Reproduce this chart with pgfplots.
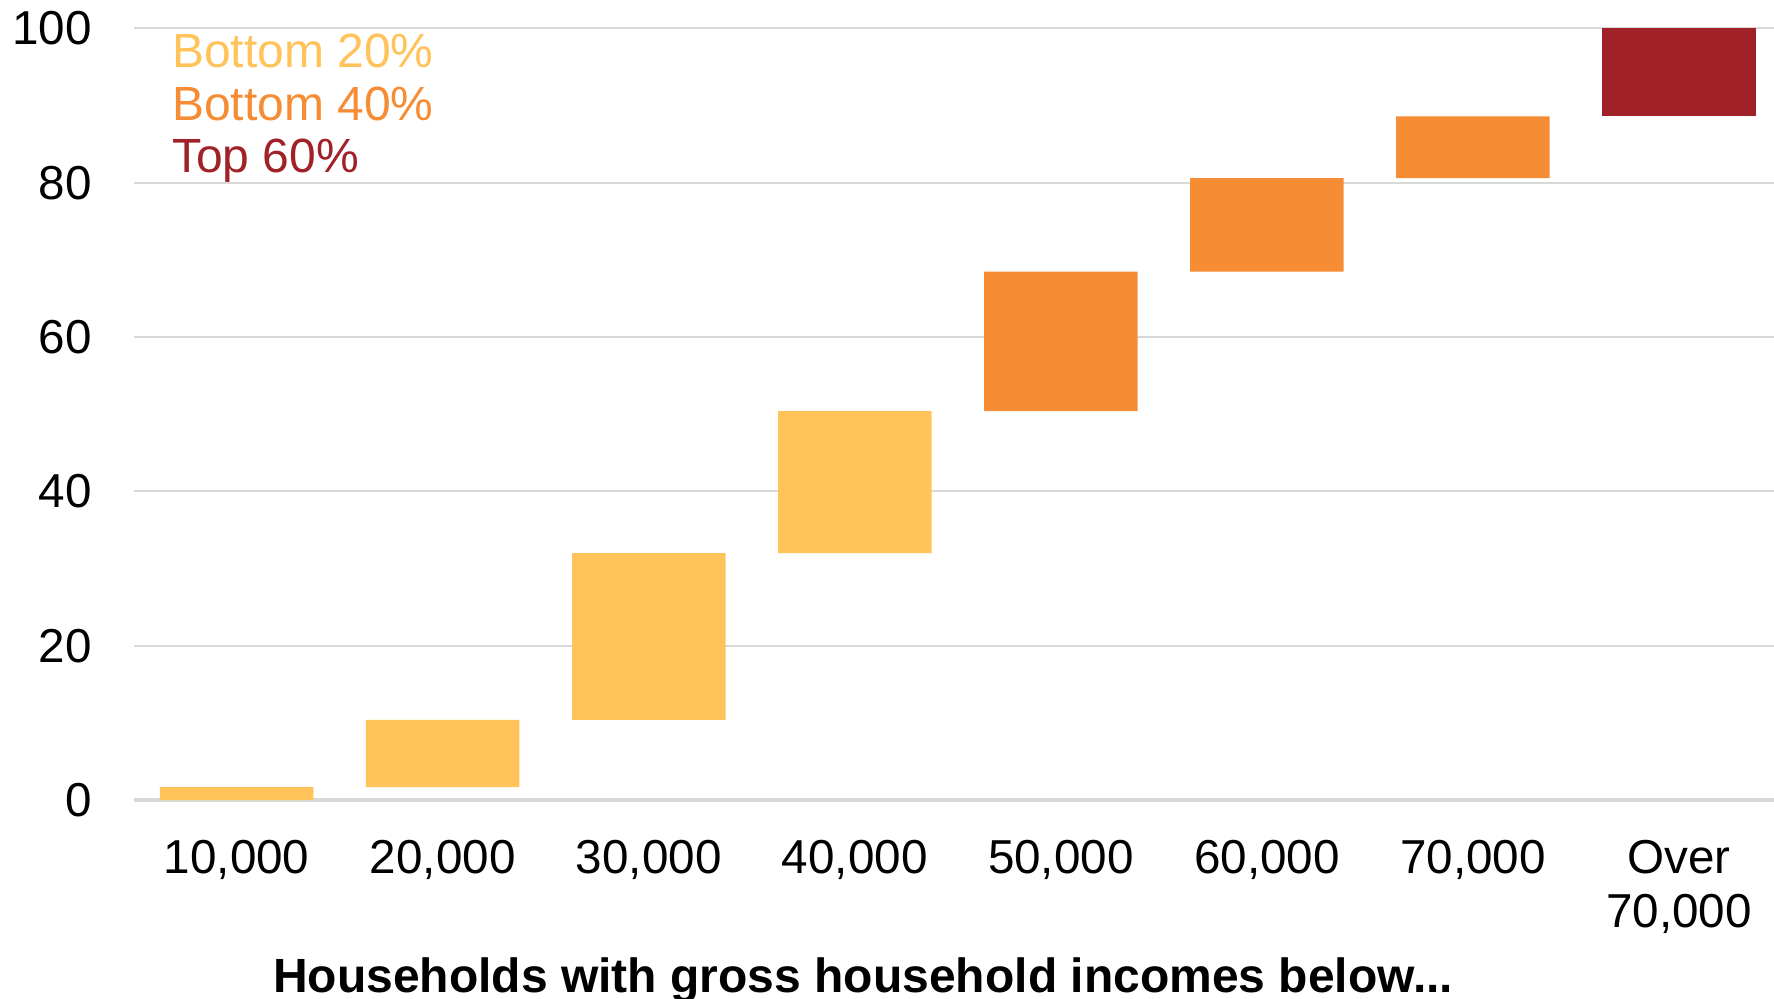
\documentclass[border=0pt]{standalone}
\usepackage{pgfplots}
\pgfplotsset{compat=1.18}
\usepackage{fontspec}
\setmainfont{Liberation Sans}
\usetikzlibrary{calc}
\definecolor{cyel}{HTML}{FFC35A}
\definecolor{corg}{HTML}{F68C34}
\definecolor{cred}{HTML}{A02127}
\definecolor{cgrid}{HTML}{D9D9D9}
\begin{document}
\begin{tikzpicture}
\begin{axis}[name=ax, scale only axis, width=412pt, height=192.9pt,
  ybar stacked, bar width=0.745,
  xmin=-0.5, xmax=7.5, ymin=0, ymax=100,
  xtick={0,1,2,3,4,5,6,7},
  xticklabels={{10,000},{20,000},{30,000},{40,000},{50,000},{60,000},{70,000},{Over\\70,000}},
  ytick={0,20,40,60,80,100},
  ymajorgrids, major grid style={cgrid, line width=0.5pt},
  axis x line*=bottom, axis y line*=left,
  x axis line style={cgrid, line width=0.9pt, -},
  y axis line style={draw=none},
  major tick length=0pt, tick style={draw=none},
  /pgf/number format/assume math mode=true,
  tick label style={font=\fontsize{11.9}{13.6}\selectfont, text=black},
  yticklabel style={xshift=-6.9pt},
  xticklabel style={yshift=-6.5pt, align=center},
  xlabel={Households with gross household incomes below...},
  xlabel style={font=\fontsize{12}{14}\selectfont\bfseries, at={(axis description cs:0.4425,0)}, anchor=base, yshift=-48pt},
  clip=false,
]
\addplot[draw=none, fill=none] coordinates {(0,0) (1,1.7) (2,10.4) (3,32.0) (4,50.4) (5,68.5) (6,80.6) (7,88.6)};
\addplot[draw=none, fill=cyel] coordinates {(0,1.7) (1,8.7) (2,21.6) (3,18.4) (4,0) (5,0) (6,0) (7,0)};
\addplot[draw=none, fill=corg] coordinates {(0,0) (1,0) (2,0) (3,0) (4,18.1) (5,12.1) (6,8.0) (7,0)};
\addplot[draw=none, fill=cred] coordinates {(0,0) (1,0) (2,0) (3,0) (4,0) (5,0) (6,0) (7,11.4)};
\node[anchor=base west, text=cyel, font=\fontsize{12}{13.6}\selectfont, inner sep=0pt] at ([xshift=9.4pt, yshift=-9.7pt]rel axis cs:0,1) {Bottom 20\%};
\node[anchor=base west, text=corg, font=\fontsize{12}{13.6}\selectfont, inner sep=0pt] at ([xshift=9.4pt, yshift=-22.9pt]rel axis cs:0,1) {Bottom 40\%};
\node[anchor=base west, text=cred, font=\fontsize{12}{13.6}\selectfont, inner sep=0pt] at ([xshift=9.4pt, yshift=-36.0pt]rel axis cs:0,1) {Top 60\%};
\end{axis}
\pgfresetboundingbox
\path[use as bounding box] ($(ax.south west)+(-33.4pt,-49.5pt)$) rectangle ($(ax.north west)+(410pt,7.1pt)$);
\end{tikzpicture}
\end{document}
